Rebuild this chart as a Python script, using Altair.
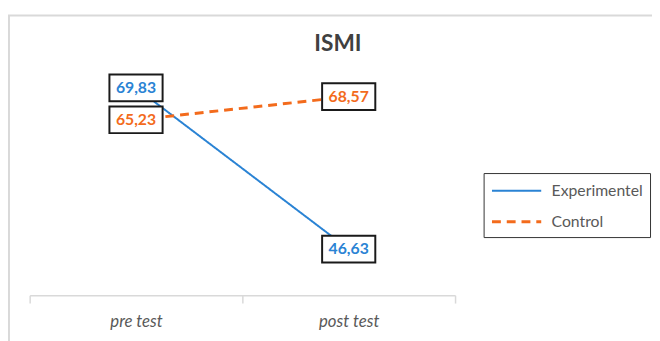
import altair as alt
import pandas as pd

categories = ["pre test", "post test"]
series_names = ["Experimentel", "Control"]
experimentel = [69.83, 46.63]
control = [65.23, 68.57]
title_text = "ISMI"

rows = []
for name, vals in zip(series_names, [experimentel, control]):
    for cat, v in zip(categories, vals):
        rows.append({"test": cat, "series": name, "value": v})
df = pd.DataFrame(rows)

BLUE = "#2a83d4"
ORANGE = "#f36b1c"

x_enc = alt.X(
    "test:N",
    sort=categories,
    scale=alt.Scale(paddingInner=0, paddingOuter=0),
    axis=alt.Axis(
        title=None, labelAngle=0, tickBand="extent", domainColor="#d9d9d9",
        tickColor="#d9d9d9", tickSize=8, domainWidth=1.5, tickWidth=1.5,
        labelFont="Lato", labelFontStyle="italic", labelFontSize=17,
        labelColor="#595959", labelPadding=11,
    ),
)
y_enc = alt.Y("value:Q", scale=alt.Scale(domain=[40, 75]), axis=None)

color_scale = alt.Scale(domain=series_names, range=[BLUE, ORANGE])
dash_scale = alt.Scale(domain=series_names, range=[[1, 0], [9, 6]])
width_scale = alt.Scale(domain=series_names, range=[2, 3])

frame = alt.Chart(pd.DataFrame({"a": [0]})).mark_rect(
    fill=None, stroke="#d9d9d9", strokeWidth=2, clip=False
).encode(
    x=alt.value(-21), x2=alt.value(800), y=alt.value(-37), y2=alt.value(500)
)

title = alt.Chart(pd.DataFrame({"t": [title_text]})).mark_text(
    font="Lato", fontSize=23, fontWeight="bold", color="#404040",
    baseline="alphabetic", align="center",
).encode(text="t:N", x=alt.value(313), y=alt.value(-1))

lines = alt.Chart(df).mark_line().encode(
    x=x_enc,
    y=y_enc,
    color=alt.Color(
        "series:N", scale=color_scale, sort=series_names,
        legend=alt.Legend(
            title=None, orient="none", legendX=461, legendY=123,
            strokeColor="#333333", padding=7, symbolType="M-1,0H4",
            symbolSize=400, symbolStrokeWidth=3, labelFont="Lato",
            labelFontSize=16, labelColor="#595959", rowPadding=12,
            labelOffset=39,
        ),
    ),
    strokeDash=alt.StrokeDash("series:N", scale=dash_scale, sort=series_names, legend=None),
    strokeWidth=alt.StrokeWidth("series:N", scale=width_scale, legend=None),
)

boxes = alt.Chart(df).mark_point(
    shape="M-1,-0.5H1V0.5H-1Z", filled=True, fill="white", stroke="#1a1a1a",
    strokeWidth=2, opacity=1, size=2916,
).encode(x=x_enc, y=y_enc)

labels = alt.Chart(df).transform_calculate(
    lab="replace(format(datum.value, '.2f'), '.', ',')"
).mark_text(font="Lato", fontWeight="bold", fontSize=16, baseline="middle").encode(
    x=x_enc,
    y=y_enc,
    text="lab:N",
    color=alt.Color("series:N", scale=color_scale, legend=None),
)

chart = alt.layer(frame, title, lines, boxes, labels).properties(
    width=432,
    height=247,
    autosize=alt.AutoSizeParams(type="none"),
    padding={"left": 22, "top": 42, "right": 200, "bottom": 50},
    background="white",
).configure_view(stroke=None)

chart.save("out.html", embed_options={"renderer": "svg", "actions": False})
